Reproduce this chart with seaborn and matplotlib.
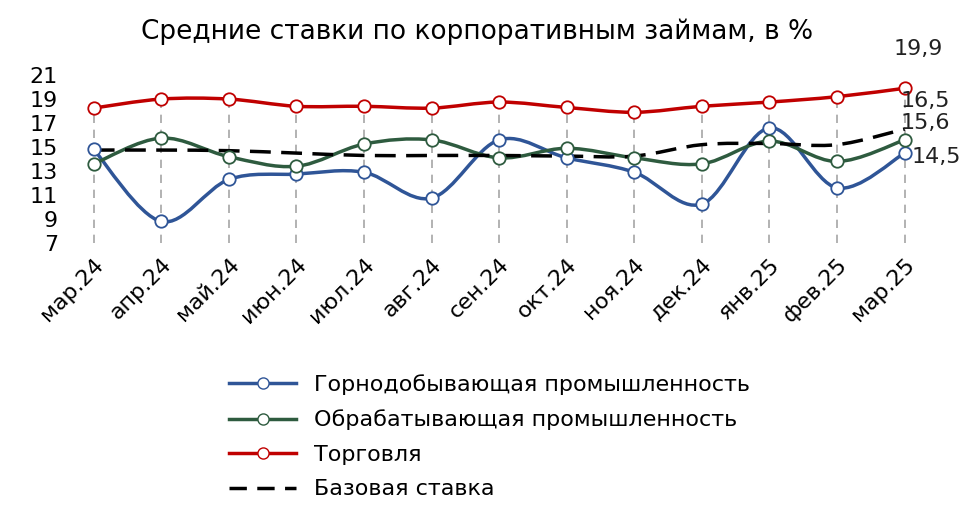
import matplotlib
matplotlib.use("Agg")
import matplotlib.pyplot as plt
import seaborn as sns
import numpy as np
import pandas as pd
from matplotlib.path import Path
from matplotlib.patches import PathPatch
from matplotlib.lines import Line2D

months = ["мар.24","апр.24","май.24","июн.24","июл.24","авг.24","сен.24","окт.24","ноя.24","дек.24","янв.25","фев.25","мар.25"]
mining = [14.8, 8.8, 12.3, 12.75, 12.9, 10.75, 15.6, 14.1, 12.9, 10.25, 16.6, 11.6, 14.5]
manuf = [13.6, 15.75, 14.2, 13.4, 15.25, 15.6, 14.1, 14.9, 14.1, 13.6, 15.5, 13.8, 15.6]
trade = [18.25, 19.0, 19.0, 18.4, 18.4, 18.25, 18.75, 18.3, 17.9, 18.4, 18.75, 19.2, 19.9]
base = [14.75, 14.75, 14.7, 14.5, 14.3, 14.3, 14.3, 14.25, 14.25, 15.2, 15.3, 15.2, 16.5]
yticks = [7, 9, 11, 13, 15, 17, 19, 21]

plt.rcParams["font.family"] = "DejaVu Sans"
fig = plt.figure(figsize=(9.74, 5.25), dpi=100)
ax = fig.add_axes([0.065, 0.537, 0.895, 0.32])
x = np.arange(len(months))

ax.vlines(x, 7, trade, colors="#a6a6a6", linestyles=(0, (5, 4)), lw=1.2, zorder=0)

def smooth(ax, xs, ys, color, lw, ls="-"):
    xs = np.asarray(xs, float); ys = np.asarray(ys, float)
    verts = [(xs[0], ys[0])]; codes = [Path.MOVETO]
    n = len(xs); t = 1/6
    for i in range(n-1):
        p0 = (xs[max(i-1,0)], ys[max(i-1,0)]); p1 = (xs[i], ys[i])
        p2 = (xs[i+1], ys[i+1]); p3 = (xs[min(i+2,n-1)], ys[min(i+2,n-1)])
        c1 = (p1[0]+(p2[0]-p0[0])*t, p1[1]+(p2[1]-p0[1])*t)
        c2 = (p2[0]-(p3[0]-p1[0])*t, p2[1]-(p3[1]-p1[1])*t)
        verts += [c1, c2, p2]; codes += [Path.CURVE4]*3
    ax.add_patch(PathPatch(Path(verts, codes), fc="none", ec=color, lw=lw, ls=ls, zorder=2))

series = [("Горнодобывающая промышленность", mining, "#2f5597"),
          ("Обрабатывающая промышленность", manuf, "#2e5b3f"),
          ("Торговля", trade, "#c00000")]
for name, vals, c in series:
    smooth(ax, x, vals, c, 2.5)
    df = pd.DataFrame({"x": x, "y": vals})
    sns.scatterplot(data=df, x="x", y="y", ax=ax, s=80, color="white", edgecolor=c, linewidth=1.3, zorder=3, legend=False)
smooth(ax, x, base, "black", 2.5, ls=(0, (6, 3)))

ax.set_xlim(-0.45, len(months)-0.55)
ax.set_ylim(7, 21)
ax.set_yticks(yticks)
ax.set_xticks(x)
ax.set_xticklabels(months, rotation=45, ha="right", rotation_mode="anchor", fontsize=16)
ax.tick_params(axis="y", labelsize=16, length=0, pad=4)
ax.tick_params(axis="x", length=0, pad=8)
ax.set_xlabel(""); ax.set_ylabel("")
for s in ax.spines.values():
    s.set_visible(False)

kw = dict(fontsize=16, color="#222222", va="center")
ax.annotate("19,9", (x[-1], trade[-1]), xytext=(10, 28), textcoords="offset points", ha="center", **kw)
ax.annotate("16,5", (x[-1], base[-1]), xytext=(-3, 20), textcoords="offset points", ha="left", **kw)
ax.annotate("15,6", (x[-1], manuf[-1]), xytext=(-3, 12), textcoords="offset points", ha="left", **kw)
ax.annotate("14,5", (x[-1], mining[-1]), xytext=(5, -3), textcoords="offset points", ha="left", **kw)

fig.text(0.49, 0.925, "Средние ставки по корпоративным займам, в %", ha="center", fontsize=19)

handles = [Line2D([], [], color=c, lw=2.5, marker="o", mfc="white", mec=c, ms=8) for _, _, c in series]
handles.append(Line2D([], [], color="black", lw=2.5, ls=(0, (5, 3))))
labels = [s[0] for s in series] + ["Базовая ставка"]
fig.legend(handles, labels, loc="upper left", bbox_to_anchor=(0.215, 0.325), frameon=False,
           fontsize=16, handlelength=3, labelspacing=0.65)
fig.savefig("out.png", dpi=100)
